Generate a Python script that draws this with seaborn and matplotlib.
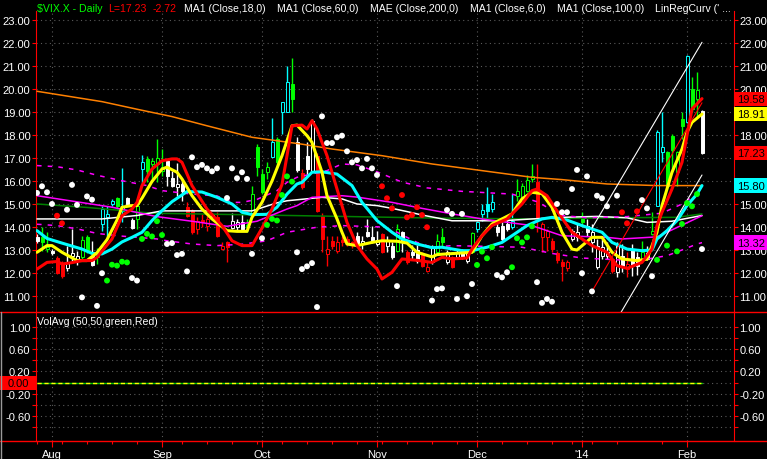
import numpy as np
import pandas as pd
import matplotlib
matplotlib.use("Agg")
import matplotlib.pyplot as plt
import matplotlib.transforms as mtransforms
from matplotlib.patches import Rectangle
from matplotlib.lines import Line2D
from matplotlib.ticker import FixedLocator, FuncFormatter
import seaborn as sns

sns.set_style("dark")
plt.rcParams['font.family'] = ['Liberation Sans', 'DejaVu Sans']

# trading days Jul 29 2013 .. Feb 6 2014
holidays = ["2013-09-02", "2013-11-28", "2013-12-25", "2014-01-01", "2014-01-20"]
dates = pd.bdate_range("2013-07-29", "2014-02-06")
dates = dates[~dates.isin(pd.to_datetime(holidays))]

# daily candles ($VIX.X)
opens = [13.58, 13.55, 13.05, 12.97, 12.65, 12.45, 12.2, 12.75, 12.55, 12.7,
         13.55, 12.75, 12.7, 14.13, 14.45, 15.0, 15.25, 14.7, 15.25, 14.3,
         14.35, 16.52, 16.96, 16.75, 16.74, 16.45, 16.88, 16.12, 15.73, 15.87,
         14.86, 14.71, 13.91, 14.3, 14.06, 14.5, 14.42, 13.04, 13.33, 13.95,
         14.0, 14.2, 14.0, 14.57, 17.47, 16.3, 16.38, 17.03, 17.83, 18.99,
         19.0, 20.22, 17.68, 16.35, 17.1, 16.45, 17.1, 14.49, 12.83, 13.4,
         12.97, 13.45, 13.48, 13.33, 13.62, 13.26, 13.77, 13.55, 13.26, 13.7,
         13.19, 13.19, 12.97, 13.77, 12.9, 12.9, 13.0, 12.83, 12.1, 12.47,
         12.9, 13.55, 12.47, 12.68, 12.68, 12.97, 12.5, 12.9, 13.91, 14.57,
         15.0, 14.78, 13.99, 14.06, 14.13, 13.99, 15.36, 15.07, 15.58, 16.09,
         15.94, 13.55, 13.55, 13.4, 12.85, 12.49, 12.2, 13.48, 13.55, 14.35,
         14.06, 13.33, 12.25, 12.75, 12.75, 12.61, 12.03, 12.75, 12.17, 13.04,
         12.68, 12.61, 12.6, 13.7, 14.93, 17.25, 17.25, 17.97, 16.4, 18.7,
         18.55, 20.0, 19.57, 19.06]
highs = [13.7, 14.0, 13.78, 13.05, 12.75, 12.5, 13.19, 13.9, 12.95, 13.6,
         13.65, 13.4, 13.1, 14.93, 14.93, 15.2, 15.3, 16.55, 15.3, 14.4,
         15.1, 17.13, 17.1, 17.0, 17.83, 17.39, 16.96, 16.45, 16.8, 16.09,
         15.07, 14.8, 14.42, 14.57, 14.49, 14.6, 14.64, 13.33, 13.4, 14.6,
         14.35, 14.6, 14.35, 15.8, 17.6, 16.52, 16.81, 18.74, 17.9, 19.42,
         20.99, 21.33, 17.9, 16.5, 17.68, 18.7, 17.2, 14.61, 13.62, 13.6,
         13.62, 13.62, 13.62, 13.4, 13.77, 13.62, 14.35, 14.04, 13.84, 13.75,
         13.62, 13.33, 14.13, 13.84, 13.0, 13.2, 13.2, 12.9, 12.47, 13.2,
         13.7, 13.94, 13.0, 12.75, 13.0, 13.05, 13.0, 13.8, 14.27, 15.0,
         15.73, 15.43, 14.2, 14.2, 14.35, 15.43, 16.09, 15.9, 16.25, 16.74,
         16.74, 14.2, 13.9, 13.5, 12.95, 12.6, 12.55, 13.9, 14.13, 14.64,
         14.35, 14.13, 13.48, 13.48, 13.33, 12.7, 13.33, 13.26, 12.9, 13.26,
         12.9, 13.4, 13.19, 14.64, 18.2, 18.99, 17.3, 18.04, 17.32, 18.99,
         21.48, 20.5, 20.73, 19.1]
lows = [13.3, 12.95, 12.91, 12.8, 11.95, 11.8, 12.1, 12.5, 12.35, 12.6,
        12.85, 12.3, 12.4, 13.84, 13.55, 14.9, 14.8, 14.2, 14.95, 13.9,
        13.9, 15.8, 15.95, 15.95, 15.95, 16.23, 15.8, 15.73, 15.36, 15.14,
        14.42, 13.7, 13.7, 13.99, 13.84, 14.4, 13.55, 13.01, 12.49, 13.9,
        13.87, 13.87, 13.77, 14.57, 16.2, 15.43, 16.09, 17.03, 16.67, 18.04,
        18.99, 19.02, 16.38, 15.65, 16.26, 16.4, 14.65, 12.9, 12.32, 13.05,
        12.88, 13.19, 13.19, 13.1, 13.19, 13.05, 13.55, 13.3, 13.19, 12.85,
        12.9, 12.6, 12.9, 12.9, 12.4, 12.6, 12.45, 12.25, 12.03, 12.4,
        12.83, 13.19, 12.4, 12.2, 12.6, 12.6, 12.45, 12.85, 13.77, 14.27,
        14.35, 14.64, 13.62, 13.4, 13.84, 13.91, 15.14, 15.0, 15.5, 15.94,
        13.77, 12.9, 12.95, 12.9, 12.45, 11.67, 12.1, 13.4, 13.4, 14.06,
        13.6, 12.9, 12.17, 12.6, 12.6, 12.0, 11.81, 12.03, 11.81, 11.88,
        11.9, 12.55, 12.55, 13.65, 14.9, 16.81, 15.75, 16.38, 15.8, 17.83,
        18.5, 19.0, 18.77, 17.17]
closes = [13.38, 13.35, 13.15, 12.88, 12.0, 11.85, 12.45, 12.85, 12.75, 13.45,
          12.95, 12.35, 12.85, 14.78, 14.55, 15.14, 14.93, 14.85, 15.0, 13.96,
          14.9, 16.81, 16.45, 16.85, 16.99, 16.6, 16.23, 15.8, 15.87, 15.58,
          14.49, 13.77, 14.27, 14.2, 14.35, 14.45, 13.62, 13.19, 13.12, 14.25,
          14.2, 13.91, 14.1, 15.43, 16.6, 15.54, 16.6, 17.68, 16.81, 19.42,
          20.32, 19.57, 16.48, 15.75, 16.5, 18.62, 14.71, 13.48, 13.04, 13.16,
          13.33, 13.35, 13.3, 13.2, 13.26, 13.4, 13.62, 13.42, 13.45, 12.9,
          13.4, 12.68, 13.91, 13.35, 12.47, 12.78, 12.5, 12.32, 12.25, 13.12,
          13.4, 13.33, 12.9, 12.25, 12.9, 12.68, 12.9, 13.73, 14.2, 14.74,
          14.71, 15.07, 13.77, 13.48, 13.91, 14.27, 15.58, 15.8, 16.06, 16.23,
          14.42, 14.13, 13.84, 13.04, 12.55, 12.32, 12.49, 13.84, 13.77, 14.2,
          13.77, 13.77, 13.19, 13.12, 12.9, 12.1, 13.19, 12.32, 12.39, 12.32,
          12.32, 12.9, 12.87, 13.84, 18.12, 17.47, 15.8, 17.35, 17.28, 18.41,
          21.44, 19.11, 19.95, 17.23]
candle_colors = ("wggwrrwwwg" "gwgcccgcww" "gcggggwwww" "rrrrrwrrrw" "wwgggggcgc"
                 "cgwrwwrrrr" "rrrrwwwwwr" "wwgwrwwrrw" "ggwrwwwgcc" "ccwwwcgggg"
                 "rrrrrrrwwg" "wwwwwrwwrw" "wgwgccgggg" "cggw")

# stop dots (one per day, nan = none)
nan = np.nan
dot_values = [15.48, 15.77, 15.51, 15.0, 14.49, 14.16, 14.75, 15.83, 14.96, 10.94,
              15.33, 15.19, 10.57, 11.99, 11.67, 12.36, 12.32, 12.49, 12.46, 11.78,
              11.67, 13.48, 13.7, 13.59, 14.25, 13.65, 13.26, 13.3, 12.78, 12.83,
              12.07, 17.03, 16.6, 16.7, 16.55, 16.42, 16.55, nan, 15.26, 16.55,
              16.12, 16.38, 16.09, 12.83, nan, 13.51, 14.09, 14.35, 14.28, 15.39,
              16.2, 15.97, 12.9, 12.17, 12.29, 12.43, 10.52, 18.81, 17.65, 17.65,
              17.9, 17.97, 17.29, 16.81, 16.91, 16.55, 16.96, 16.55, 16.26, 15.77,
              15.25, 14.81, 11.43, 15.39, 14.42, 14.52, 14.86, 14.52, 13.99, 10.8,
              11.3, 11.33, 14.74, 14.57, 10.87, 14.57, 10.99, 11.52, 12.35, 12.93,
              12.64, 13.12, 11.91, 11.81, 12.03, 12.25, 13.51, 13.33, 13.55, 14.03,
              11.6, 10.7, 10.87, 10.75, 15.0, 14.64, 14.64, 15.65, 16.48, 11.99,
              16.2, 11.2, 15.36, 15.25, 14.9, nan, 15.36, 14.64, 14.16, nan,
              14.68, 15.17, 14.81, 11.86, 12.57, nan, 13.19, nan, 12.94, 14.13,
              15.04, 14.9, 15.43, 13.04]
dot_colors = ("wwwwrrwwww" "wwwwgggggw" "wgggggwwww" "wwwwwwwxww" "wwwwxwgggg"
              "ggwwwwwwww" "wwwwwwwwwr" "rrwrrrrrrw" "wwwwwwwwgg" "ggwwwggggg"
              "wwwwwwwwww" "wwwwwxwrrx" "rwwwgxgxgg" "gggw")

# indicator lines, read at sampled trading-day indices
red_days = [0, 2, 4, 5, 7, 9, 11, 12, 15, 17, 19, 20, 21, 23, 25, 27, 28, 29, 31, 34,
            37, 39, 41, 43, 45, 47, 49, 50, 51, 53, 54, 55, 56, 58, 60, 62, 64, 66, 68, 69,
            71, 72, 73, 76, 79, 81, 83, 86, 87, 89, 91, 94, 97, 99, 100, 102, 104, 107, 109, 111,
            114, 116, 118, 121, 123, 124, 125, 127, 129, 130, 131, 133]
red_vals = [12.17, 12.46, 12.5, 12.39, 12.45, 12.54, 12.54, 12.68, 13.48, 14.49,
            14.78, 15.07, 15.8, 16.52, 16.88, 16.96, 16.96, 16.81, 15.8, 14.78,
            14.06, 13.4, 13.19, 13.19, 13.95, 14.78, 15.85, 17.1, 18.4, 18.43,
            18.26, 18.62, 18.26, 17.1, 15.65, 14.2, 13.19, 12.61, 12.17, 11.74,
            12.03, 12.32, 12.61, 12.55, 12.46, 12.68, 12.61, 12.65, 13.04, 13.62,
            14.06, 14.35, 15.0, 15.58, 15.65, 15.36, 14.7, 13.77, 13.48, 13.19,
            12.9, 12.32, 12.2, 12.46, 13.04, 14.06, 14.64, 15.65, 16.81, 17.97,
            19.13, 19.58]
yellow_days = [0, 2, 3, 5, 8, 10, 12, 14, 16, 17, 19, 20, 21, 23, 25, 26, 28, 29, 31, 33,
               35, 38, 40, 42, 43, 45, 47, 49, 51, 52, 54, 55, 57, 58, 60, 61, 62, 64, 67, 69,
               72, 74, 76, 79, 80, 82, 85, 87, 89, 91, 93, 95, 97, 99, 101, 103, 105, 107, 108, 111,
               113, 115, 117, 120, 122, 124, 125, 127, 129, 130, 131, 133]
yellow_vals = [12.9, 13.19, 13.19, 12.9, 12.54, 12.54, 12.88, 13.45, 14.3, 14.86,
               14.93, 14.93, 15.25, 15.98, 16.52, 16.6, 16.38, 16.09, 15.36, 14.78,
               14.35, 13.84, 13.81, 13.81, 14.42, 15.07, 16.0, 17.1, 18.4, 18.43,
               17.97, 17.68, 16.38, 15.36, 14.35, 13.77, 13.26, 13.19, 13.33, 13.4,
               13.38, 13.3, 12.9, 12.7, 12.8, 12.83, 12.87, 12.9, 13.62, 14.13,
               14.35, 14.57, 15.22, 15.51, 15.45, 14.85, 13.77, 13.04, 13.0, 13.55,
               13.55, 12.9, 12.61, 12.54, 12.6, 13.77, 14.93, 16.38, 17.39, 18.12,
               18.55, 18.91]
cyan_days = [0, 2, 5, 9, 11, 13, 15, 17, 19, 21, 23, 25, 27, 30, 33, 36, 39, 41, 43, 46,
             48, 50, 51, 52, 53, 55, 57, 60, 63, 65, 68, 71, 73, 76, 79, 81, 85, 87, 90, 93,
             95, 98, 101, 103, 106, 109, 113, 115, 118, 121, 123, 124, 126, 128, 130, 132, 133]
cyan_vals = [13.84, 13.5, 13.3, 13.04, 12.85, 12.83, 13.04, 13.35, 13.55, 13.77,
             14.28, 14.71, 15.1, 15.54, 15.52, 15.29, 15.0, 14.64, 14.54, 14.55,
             14.86, 15.43, 15.65, 15.87, 15.94, 16.38, 16.4, 16.3, 15.8, 15.07,
             14.28, 13.77, 13.48, 13.26, 13.1, 13.12, 12.97, 12.97, 13.12, 13.33,
             13.62, 14.06, 14.35, 14.42, 14.3, 14.06, 13.77, 13.33, 13.04, 12.97,
             13.0, 13.48, 13.84, 14.28, 14.93, 15.43, 15.8]
orange_days = [0, 13, 20, 27, 34, 43, 53, 59, 69, 79, 89, 99, 105, 114, 124, 133]
orange_vals = [19.9, 19.45, 19.12, 18.8, 18.4, 17.9, 17.6, 17.39, 17.1, 16.74,
               16.45, 16.16, 16.06, 15.87, 15.8, 15.8]
white_days = [0, 13, 20, 25, 43, 48, 50, 57, 61, 64, 68, 71, 74, 77, 83, 93, 99, 105,
              112, 118, 122, 127, 133]
white_vals = [14.35, 14.35, 14.5, 14.7, 14.7, 15.05, 15.14, 15.29, 15.22, 15.0, 14.93,
              14.81, 14.67, 14.52, 14.27, 14.27, 14.35, 14.42, 14.46, 14.4, 14.2, 14.25, 14.5]
green_days = [0, 10, 23, 45, 53, 79, 99, 115, 128, 133]
green_vals = [15.0, 14.85, 14.6, 14.52, 14.49, 14.39, 14.35, 14.4, 14.42, 14.57]
magenta_days = [0, 15, 24, 31, 38, 44, 50, 52, 55, 61, 64, 71, 77, 83, 89, 99, 105,
                114, 117, 124, 133]
magenta_vals = [15.36, 14.86, 14.45, 14.25, 14.03, 14.25, 14.78, 14.93, 15.29, 15.36,
                15.3, 15.07, 14.81, 14.57, 14.35, 14.06, 13.62, 13.55, 13.48, 13.57, 14.49]
upper_days = [0, 4, 8, 12, 17, 22, 25, 31, 36, 39, 41, 44, 48, 50, 52, 58, 61, 64, 68, 73,
              78, 85, 95, 100, 105, 110, 118, 125, 129, 131, 133]
upper_vals = [16.67, 16.62, 16.48, 16.25, 16.01, 15.8, 15.58, 15.43, 15.35, 15.07,
              15.07, 15.2, 15.58, 15.94, 16.16, 16.45, 16.74, 16.7, 16.4, 15.95,
              15.7, 15.55, 15.43, 15.1, 14.5, 14.4, 14.45, 14.6, 15.0, 15.3, 15.5]
lower_days = [0, 4, 8, 12, 16, 24, 26, 31, 36, 41, 46, 50, 56, 61, 69, 72, 76, 79, 83, 97,
              103, 109, 120, 124, 126, 129, 132, 133]
lower_vals = [14.12, 14.06, 13.92, 13.72, 13.62, 13.48, 13.4, 13.26, 13.19, 13.25,
              13.4, 13.77, 13.99, 14.06, 14.0, 13.77, 13.33, 13.12, 13.19, 13.12,
              12.85, 12.65, 12.53, 12.68, 12.75, 13.0, 13.26, 13.32]
reg_days = [111, 133]
reg_mid = [11.2, 19.4]
reg_upper = [13.95, 22.03]
reg_lower = [8.15, 16.26]

last_labels = [("19.58", 19.58, "#ff0000"), ("18.91", 18.91, "#ffff00"),
               ("17.23", 17.23, "#ff0000"), ("15.80", 15.80, "#00ffff"),
               ("13.32", 13.32, "#ff00ff")]
month_names = ["Aug", "Sep", "Oct", "Nov", "Dec", "'14", "Feb"]

# ---------------------------------------------------------------
W, H = 767, 460
fig = plt.figure(figsize=(W / 100, H / 100), dpi=100, facecolor="black")


def frame(x0, y0, x1, y1):
    return [x0 / W, 1 - y1 / H, (x1 - x0) / W, (y1 - y0) / H]


ax1 = fig.add_axes(frame(36, 12, 734, 313))
ax2 = fig.add_axes(frame(36, 313, 734, 442), sharex=ax1)

x = np.arange(len(dates))
o, h, l, c = map(np.array, (opens, highs, lows, closes))
cmap = {"g": "#00ff00", "r": "#ff0000", "w": "#ffffff", "c": "#00ffff"}
cols = [cmap[k] for k in candle_colors]
face = [col if cc < oo else "black" for col, cc, oo in zip(cols, c, o)]

ax1.vlines(x, l, h, colors=cols, lw=1.0, zorder=2)
ax1.bar(x, np.abs(c - o), bottom=np.minimum(o, c), width=0.6, color=face,
        edgecolor=cols, lw=0.7, zorder=3)

thin = dict(lw=1.1, zorder=4, ax=ax1)
sns.lineplot(x=orange_days, y=orange_vals, color="#ff8000", **thin)
sns.lineplot(x=green_days, y=green_vals, color="#008000", **thin)
sns.lineplot(x=white_days, y=white_vals, color="#ffffff", **thin)
sns.lineplot(x=magenta_days, y=magenta_vals, color="#ff00ff", **thin)
sns.lineplot(x=upper_days, y=upper_vals, color="#ff00ff", linestyle=(0, (3, 4)), **thin)
sns.lineplot(x=lower_days, y=lower_vals, color="#ff00ff", linestyle=(0, (3, 4)), **thin)

thick = dict(lw=2.2, zorder=5, ax=ax1)
sns.lineplot(x=cyan_days, y=cyan_vals, color="#00ffff", **thick)
sns.lineplot(x=yellow_days, y=yellow_vals, color="#ffff00", **thick)
sns.lineplot(x=red_days, y=red_vals, color="#ff0000", **thick)

sns.lineplot(x=reg_days, y=reg_mid, color="#ff0000", lw=0.8, zorder=6, ax=ax1)
sns.lineplot(x=reg_days, y=reg_upper, color="#ffffff", lw=0.8, zorder=6, ax=ax1)
sns.lineplot(x=reg_days, y=reg_lower, color="#ffffff", lw=0.8, zorder=6, ax=ax1)

dots = pd.DataFrame({"x": x, "y": dot_values, "c": list(dot_colors)}).dropna()
sns.scatterplot(data=dots, x="x", y="y", hue="c",
                palette={"w": "#ffffff", "g": "#00ff00", "r": "#ff0000"},
                s=18, linewidth=0, legend=False, zorder=7, ax=ax1)

# lower panel: VolAvg
vol_avg = np.zeros(len(dates))
sns.lineplot(x=x, y=vol_avg, color="#00c000", lw=1.0, ax=ax2, zorder=4)
sns.lineplot(x=x, y=vol_avg, color="#ffff00", lw=1.0, linestyle=(0, (3, 2)), ax=ax2, zorder=5)

# axes styling
ax1.set_xlim(-0.2, 139.4)
ax1.set_ylim(10.304, 23.39)
ax2.set_ylim(-1.045, 1.263)

month_idx = [int(np.argmax((dates.month == d.month) & (dates.year == d.year)))
             for d in pd.to_datetime(["2013-08-01", "2013-09-01", "2013-10-01", "2013-11-01",
                                      "2013-12-01", "2014-01-01", "2014-02-01"])]
weekly = [i for i, d in enumerate(dates) if d.weekday() == 0]

grid_kw = dict(color="#5a5a5a", linestyle=(0, (1, 3)), lw=0.8)
for ax in (ax1, ax2):
    ax.set_facecolor("black")
    ax.set_xlabel("")
    ax.set_ylabel("")
    for side in ("top", "bottom"):
        ax.spines[side].set_visible(False)
    for side in ("left", "right"):
        ax.spines[side].set_color("#ff0000")
        ax.spines[side].set_linewidth(0.8)
    ax.xaxis.set_major_locator(FixedLocator(month_idx))
    ax.grid(True, **grid_kw)
    ax.tick_params(axis="y", which="both", left=True, right=True, labelleft=True,
                   labelright=True, colors="#ff0000", labelcolor="white",
                   length=3, width=0.8, pad=1, labelsize=8, direction="out")

ax1.yaxis.set_major_locator(FixedLocator(np.arange(11, 24)))
ax1.yaxis.set_major_formatter(FuncFormatter(lambda v, p: "%.2f" % v))
ax1.tick_params(axis="x", bottom=False, labelbottom=False)
# right-scale labels fully hidden behind the last-value boxes
for tick, v in zip(ax1.yaxis.get_major_ticks(), ax1.yaxis.get_majorticklocs()):
    if v in (17, 19):
        tick.label2.set_visible(False)

low_ticks = np.round(np.arange(-0.8, 1.01, 0.2), 1)
shown = {1.0, 0.6, 0.2, -0.2, -0.6}
ax2.yaxis.set_major_locator(FixedLocator(low_ticks))
ax2.yaxis.set_major_formatter(FuncFormatter(
    lambda v, p: "%.2f" % v if round(v, 1) in shown else ""))
ax2.xaxis.set_minor_locator(FixedLocator(weekly))
ax2.set_xticklabels(month_names)
ax2.tick_params(axis="x", which="major", bottom=True, colors="#ff0000", labelcolor="white",
                length=4.5, width=0.8, pad=1, labelsize=8, direction="out")
ax2.tick_params(axis="x", which="minor", bottom=True, colors="#ff0000",
                length=2.2, width=0.8, direction="out")

# last-value boxes on the right price scale
bt = mtransforms.blended_transform_factory(ax1.transAxes, ax1.transData)
for txt, val, col in last_labels:
    ax1.add_patch(Rectangle((1.0, val - 0.31), 33 / 698, 0.62, transform=bt,
                            facecolor=col, edgecolor="none", clip_on=False, zorder=20))
    ax1.text(1.025, val, txt, transform=bt, ha="center", va="center", color="black",
             fontsize=8, clip_on=False, zorder=21)

bt2 = mtransforms.blended_transform_factory(ax2.transAxes, ax2.transData)
ax2.add_patch(Rectangle((-36 / 698, -0.125), 36 / 698, 0.25, transform=bt2,
                        facecolor="#ff0000", edgecolor="none", clip_on=False, zorder=20))
ax2.text(-0.026, 0, "0.00", transform=bt2, ha="center", va="center", color="black",
         fontsize=8, clip_on=False, zorder=21)

# header
header = [(37, "$VIX.X - Daily", "#00ff00"), (108, "L=17.23", "#ff0000"),
          (153, "-2.72", "#ff0000"), (184, "MA1 (Close,18,0)", "white"),
          (277, "MA1 (Close,60,0)", "white"), (370, "MAE (Close,200,0)", "white"),
          (470, "MA1 (Close,6,0)", "white"), (557, "MA1 (Close,100,0)", "white"),
          (655, "LinRegCurv (' ...", "white")]
for px, txt, col in header:
    fig.text(px / W, 1 - 8.5 / H, txt, color=col, fontsize=7.6, ha="left", va="center")
fig.text(37 / W, 1 - 322 / H, "VolAvg (50,50,green,Red)", color="white", fontsize=7.6,
         ha="left", va="center")

# panel separators
for py in (313, 442):
    fig.add_artist(Line2D([0, 1], [1 - py / H, 1 - py / H], color="#ff0000", lw=1.0,
                          transform=fig.transFigure))
fig.add_artist(Line2D([0.8 / W, 0.8 / W], [0, 1 - 313 / H], color="#9a9a9a", lw=1.0,
                      transform=fig.transFigure))

fig.savefig("out.png", dpi=100, facecolor="black")
